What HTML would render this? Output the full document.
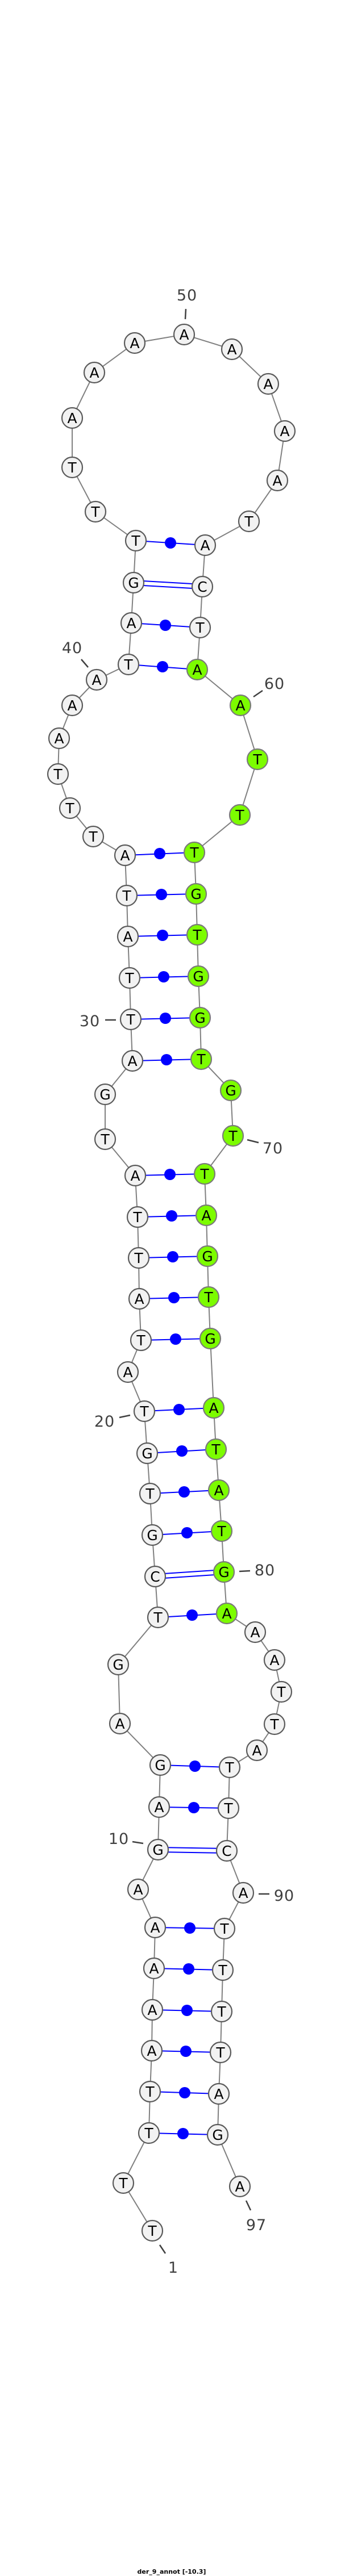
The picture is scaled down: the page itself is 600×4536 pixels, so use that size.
<!DOCTYPE html>
<html><head><meta charset="utf-8"><style>
html,body{margin:0;padding:0;background:#fff}
svg{display:block}
.b{fill:none;stroke:#808080;stroke-width:2}
.p{stroke:#0000ff;stroke-width:2}
.d{fill:#0000ff}
.n{fill:#f2f2f2;stroke:#5a5a5a;stroke-width:2.2}
.g{fill:#7cfc00;stroke:#7a7a7a;stroke-width:2.2}
.t text{font-family:"DejaVu Sans","Liberation Sans",sans-serif;font-size:25px;text-anchor:middle;fill:#000}
.l{font-family:"DejaVu Sans","Liberation Sans",sans-serif;font-size:27px;fill:#404040;text-anchor:middle;letter-spacing:1px}
.k{stroke:#404040;stroke-width:2.5}
</style></head><body>
<svg width="600" height="4536" viewBox="0 0 600 4536" xmlns="http://www.w3.org/2000/svg">
<polyline class="b" points="268,3928 217,3844 262,3756 264,3683 267,3611 268,3539 271,3466 273,3394 243,3327 278,3257 280,3182 282,3108 211,3035 208,2931 278,2848 273,2776 268,2703 264,2630 259,2559 254,2485 225,2416 248,2360 245,2287 244,2215 242,2143 238,2070 185,2006 185,1927 233,1868 230,1795 228,1722 225,1649 223,1577 220,1506 164,1473 123,1423 102,1363 104,1300 127,1242 170,1197 226,1170 231,1097 235,1026 239,952 168,901 127,823 127,736 166,656 237,604 324,589 408,615 472,676 501,759 488,846 438,918 361,960 356,1033 352,1105 347,1179 423,1242 453,1337 422,1435 342,1501 345,1574 347,1646 349,1719 352,1792 354,1865 406,1920 410,2000 360,2067 363,2140 365,2212 367,2284 370,2357 376,2479 380,2552 385,2624 390,2696 394,2768 399,2841 449,2874 483,2923 495,2979 483,3036 452,3082 404,3112 402,3184 399,3259 428,3333 395,3396 392,3469 390,3542 388,3614 385,3687 383,3759 422,3850"/>
<!-- single pairs -->
<g>
<line class="p" x1="262" y1="3756" x2="383" y2="3759"/><circle class="d" cx="322" cy="3757" r="10"/>
<line class="p" x1="264" y1="3683" x2="385" y2="3687"/><circle class="d" cx="325" cy="3685" r="10"/>
<line class="p" x1="267" y1="3611" x2="388" y2="3614"/><circle class="d" cx="327" cy="3612" r="10"/>
<line class="p" x1="268" y1="3539" x2="390" y2="3542"/><circle class="d" cx="329" cy="3540" r="10"/>
<line class="p" x1="271" y1="3466" x2="392" y2="3469"/><circle class="d" cx="332" cy="3467" r="10"/>
<line class="p" x1="273" y1="3394" x2="395" y2="3396"/><circle class="d" cx="334" cy="3395" r="10"/>
<line class="p" x1="280" y1="3182" x2="402" y2="3184"/><circle class="d" cx="341" cy="3183" r="10"/>
<line class="p" x1="282" y1="3108" x2="404" y2="3112"/><circle class="d" cx="343" cy="3110" r="10"/>
<line class="p" x1="278" y1="2848" x2="399" y2="2841"/><circle class="d" cx="338" cy="2844" r="10"/>
<line class="p" x1="268" y1="2703" x2="390" y2="2696"/><circle class="d" cx="329" cy="2699" r="10"/>
<line class="p" x1="264" y1="2630" x2="385" y2="2624"/><circle class="d" cx="324" cy="2627" r="10"/>
<line class="p" x1="259" y1="2559" x2="380" y2="2552"/><circle class="d" cx="320" cy="2555" r="10"/>
<line class="p" x1="254" y1="2485" x2="376" y2="2479"/><circle class="d" cx="315" cy="2482" r="10"/>
<line class="p" x1="248" y1="2360" x2="370" y2="2357"/><circle class="d" cx="309" cy="2358" r="10"/>
<line class="p" x1="245" y1="2287" x2="367" y2="2284"/><circle class="d" cx="306" cy="2285" r="10"/>
<line class="p" x1="244" y1="2215" x2="365" y2="2212"/><circle class="d" cx="304" cy="2213" r="10"/>
<line class="p" x1="242" y1="2143" x2="363" y2="2140"/><circle class="d" cx="302" cy="2141" r="10"/>
<line class="p" x1="238" y1="2070" x2="360" y2="2067"/><circle class="d" cx="299" cy="2068" r="10"/>
<line class="p" x1="233" y1="1868" x2="354" y2="1865"/><circle class="d" cx="293" cy="1866" r="10"/>
<line class="p" x1="230" y1="1795" x2="352" y2="1792"/><circle class="d" cx="291" cy="1793" r="10"/>
<line class="p" x1="228" y1="1722" x2="349" y2="1719"/><circle class="d" cx="288" cy="1720" r="10"/>
<line class="p" x1="225" y1="1649" x2="347" y2="1646"/><circle class="d" cx="286" cy="1647" r="10"/>
<line class="p" x1="223" y1="1577" x2="345" y2="1574"/><circle class="d" cx="284" cy="1575" r="10"/>
<line class="p" x1="220" y1="1506" x2="342" y2="1501"/><circle class="d" cx="281" cy="1503" r="10"/>
<line class="p" x1="226" y1="1170" x2="347" y2="1179"/><circle class="d" cx="286" cy="1174" r="10"/>
<line class="p" x1="231" y1="1097" x2="352" y2="1105"/><circle class="d" cx="291" cy="1101" r="10"/>
<line class="p" x1="239" y1="952" x2="361" y2="960"/><circle class="d" cx="300" cy="956" r="10"/>
</g>
<!-- GC double pairs -->
<g>
<line class="p" x1="278" y1="3253" x2="399" y2="3255"/><line class="p" x1="278" y1="3261" x2="399" y2="3263"/>
<line class="p" x1="273" y1="2772" x2="394" y2="2764"/><line class="p" x1="273" y1="2780" x2="394" y2="2772"/>
<line class="p" x1="235" y1="1022" x2="356" y2="1029"/><line class="p" x1="235" y1="1030" x2="356" y2="1037"/>
</g>
<!-- ticks & labels -->
<g>
<line class="k" x1="327" y1="544" x2="326" y2="562"/><text class="l" x="329" y="529">50</text>
<line class="k" x1="143" y1="1161" x2="155" y2="1175"/><text class="l" x="127" y="1150">40</text>
<line class="k" x1="446" y1="1227" x2="462" y2="1216"/><text class="l" x="483" y="1213">60</text>
<line class="k" x1="185" y1="1796" x2="204" y2="1796"/><text class="l" x="158" y="1807">30</text>
<line class="k" x1="435" y1="2007" x2="455" y2="2012"/><text class="l" x="480" y="2031">70</text>
<line class="k" x1="210" y1="2496" x2="229" y2="2492"/><text class="l" x="184" y="2512">20</text>
<line class="k" x1="421" y1="2767" x2="440" y2="2766"/><text class="l" x="466" y="2774">80</text>
<line class="k" x1="233" y1="3243" x2="252" y2="3246"/><text class="l" x="209" y="3247">10</text>
<line class="k" x1="455" y1="3335" x2="474" y2="3335"/><text class="l" x="500" y="3347">90</text>
<line class="k" x1="433" y1="3875" x2="441" y2="3892"/><text class="l" x="451" y="3927">97</text>
<line class="k" x1="281" y1="3953" x2="291" y2="3968"/><text class="l" x="305" y="4002">1</text>
</g>
<g class="t">
<circle class="n" cx="268" cy="3928" r="18"/><text x="268" y="3937">T</text>
<circle class="n" cx="217" cy="3844" r="18"/><text x="217" y="3853">T</text>
<circle class="n" cx="262" cy="3756" r="18"/><text x="262" y="3765">T</text>
<circle class="n" cx="264" cy="3683" r="18"/><text x="264" y="3692">T</text>
<circle class="n" cx="267" cy="3611" r="18"/><text x="267" y="3620">A</text>
<circle class="n" cx="268" cy="3539" r="18"/><text x="268" y="3548">A</text>
<circle class="n" cx="271" cy="3466" r="18"/><text x="271" y="3475">A</text>
<circle class="n" cx="273" cy="3394" r="18"/><text x="273" y="3403">A</text>
<circle class="n" cx="243" cy="3327" r="18"/><text x="243" y="3336">A</text>
<circle class="n" cx="278" cy="3257" r="18"/><text x="278" y="3266">G</text>
<circle class="n" cx="280" cy="3182" r="18"/><text x="280" y="3191">A</text>
<circle class="n" cx="282" cy="3108" r="18"/><text x="282" y="3117">G</text>
<circle class="n" cx="211" cy="3035" r="18"/><text x="211" y="3044">A</text>
<circle class="n" cx="208" cy="2931" r="18"/><text x="208" y="2940">G</text>
<circle class="n" cx="278" cy="2848" r="18"/><text x="278" y="2857">T</text>
<circle class="n" cx="273" cy="2776" r="18"/><text x="273" y="2785">C</text>
<circle class="n" cx="268" cy="2703" r="18"/><text x="268" y="2712">G</text>
<circle class="n" cx="264" cy="2630" r="18"/><text x="264" y="2639">T</text>
<circle class="n" cx="259" cy="2559" r="18"/><text x="259" y="2568">G</text>
<circle class="n" cx="254" cy="2485" r="18"/><text x="254" y="2494">T</text>
<circle class="n" cx="225" cy="2416" r="18"/><text x="225" y="2425">A</text>
<circle class="n" cx="248" cy="2360" r="18"/><text x="248" y="2369">T</text>
<circle class="n" cx="245" cy="2287" r="18"/><text x="245" y="2296">A</text>
<circle class="n" cx="244" cy="2215" r="18"/><text x="244" y="2224">T</text>
<circle class="n" cx="242" cy="2143" r="18"/><text x="242" y="2152">T</text>
<circle class="n" cx="238" cy="2070" r="18"/><text x="238" y="2079">A</text>
<circle class="n" cx="185" cy="2006" r="18"/><text x="185" y="2015">T</text>
<circle class="n" cx="185" cy="1927" r="18"/><text x="185" y="1936">G</text>
<circle class="n" cx="233" cy="1868" r="18"/><text x="233" y="1877">A</text>
<circle class="n" cx="230" cy="1795" r="18"/><text x="230" y="1804">T</text>
<circle class="n" cx="228" cy="1722" r="18"/><text x="228" y="1731">T</text>
<circle class="n" cx="225" cy="1649" r="18"/><text x="225" y="1658">A</text>
<circle class="n" cx="223" cy="1577" r="18"/><text x="223" y="1586">T</text>
<circle class="n" cx="220" cy="1506" r="18"/><text x="220" y="1515">A</text>
<circle class="n" cx="164" cy="1473" r="18"/><text x="164" y="1482">T</text>
<circle class="n" cx="123" cy="1423" r="18"/><text x="123" y="1432">T</text>
<circle class="n" cx="102" cy="1363" r="18"/><text x="102" y="1372">T</text>
<circle class="n" cx="104" cy="1300" r="18"/><text x="104" y="1309">A</text>
<circle class="n" cx="127" cy="1242" r="18"/><text x="127" y="1251">A</text>
<circle class="n" cx="170" cy="1197" r="18"/><text x="170" y="1206">A</text>
<circle class="n" cx="226" cy="1170" r="18"/><text x="226" y="1179">T</text>
<circle class="n" cx="231" cy="1097" r="18"/><text x="231" y="1106">A</text>
<circle class="n" cx="235" cy="1026" r="18"/><text x="235" y="1035">G</text>
<circle class="n" cx="239" cy="952" r="18"/><text x="239" y="961">T</text>
<circle class="n" cx="168" cy="901" r="18"/><text x="168" y="910">T</text>
<circle class="n" cx="127" cy="823" r="18"/><text x="127" y="832">T</text>
<circle class="n" cx="127" cy="736" r="18"/><text x="127" y="745">A</text>
<circle class="n" cx="166" cy="656" r="18"/><text x="166" y="665">A</text>
<circle class="n" cx="237" cy="604" r="18"/><text x="237" y="613">A</text>
<circle class="n" cx="324" cy="589" r="18"/><text x="324" y="598">A</text>
<circle class="n" cx="408" cy="615" r="18"/><text x="408" y="624">A</text>
<circle class="n" cx="472" cy="676" r="18"/><text x="472" y="685">A</text>
<circle class="n" cx="501" cy="759" r="18"/><text x="501" y="768">A</text>
<circle class="n" cx="488" cy="846" r="18"/><text x="488" y="855">A</text>
<circle class="n" cx="438" cy="918" r="18"/><text x="438" y="927">T</text>
<circle class="n" cx="361" cy="960" r="18"/><text x="361" y="969">A</text>
<circle class="n" cx="356" cy="1033" r="18"/><text x="356" y="1042">C</text>
<circle class="n" cx="352" cy="1105" r="18"/><text x="352" y="1114">T</text>
<circle class="g" cx="347" cy="1179" r="18"/><text x="347" y="1188">A</text>
<circle class="g" cx="423" cy="1242" r="18"/><text x="423" y="1251">A</text>
<circle class="g" cx="453" cy="1337" r="18"/><text x="453" y="1346">T</text>
<circle class="g" cx="422" cy="1435" r="18"/><text x="422" y="1444">T</text>
<circle class="g" cx="342" cy="1501" r="18"/><text x="342" y="1510">T</text>
<circle class="g" cx="345" cy="1574" r="18"/><text x="345" y="1583">G</text>
<circle class="g" cx="347" cy="1646" r="18"/><text x="347" y="1655">T</text>
<circle class="g" cx="349" cy="1719" r="18"/><text x="349" y="1728">G</text>
<circle class="g" cx="352" cy="1792" r="18"/><text x="352" y="1801">G</text>
<circle class="g" cx="354" cy="1865" r="18"/><text x="354" y="1874">T</text>
<circle class="g" cx="406" cy="1920" r="18"/><text x="406" y="1929">G</text>
<circle class="g" cx="410" cy="2000" r="18"/><text x="410" y="2009">T</text>
<circle class="g" cx="360" cy="2067" r="18"/><text x="360" y="2076">T</text>
<circle class="g" cx="363" cy="2140" r="18"/><text x="363" y="2149">A</text>
<circle class="g" cx="365" cy="2212" r="18"/><text x="365" y="2221">G</text>
<circle class="g" cx="367" cy="2284" r="18"/><text x="367" y="2293">T</text>
<circle class="g" cx="370" cy="2357" r="18"/><text x="370" y="2366">G</text>
<circle class="g" cx="376" cy="2479" r="18"/><text x="376" y="2488">A</text>
<circle class="g" cx="380" cy="2552" r="18"/><text x="380" y="2561">T</text>
<circle class="g" cx="385" cy="2624" r="18"/><text x="385" y="2633">A</text>
<circle class="g" cx="390" cy="2696" r="18"/><text x="390" y="2705">T</text>
<circle class="g" cx="394" cy="2768" r="18"/><text x="394" y="2777">G</text>
<circle class="g" cx="399" cy="2841" r="18"/><text x="399" y="2850">A</text>
<circle class="n" cx="449" cy="2874" r="18"/><text x="449" y="2883">A</text>
<circle class="n" cx="483" cy="2923" r="18"/><text x="483" y="2932">A</text>
<circle class="n" cx="495" cy="2979" r="18"/><text x="495" y="2988">T</text>
<circle class="n" cx="483" cy="3036" r="18"/><text x="483" y="3045">T</text>
<circle class="n" cx="452" cy="3082" r="18"/><text x="452" y="3091">A</text>
<circle class="n" cx="404" cy="3112" r="18"/><text x="404" y="3121">T</text>
<circle class="n" cx="402" cy="3184" r="18"/><text x="402" y="3193">T</text>
<circle class="n" cx="399" cy="3259" r="18"/><text x="399" y="3268">C</text>
<circle class="n" cx="428" cy="3333" r="18"/><text x="428" y="3342">A</text>
<circle class="n" cx="395" cy="3396" r="18"/><text x="395" y="3405">T</text>
<circle class="n" cx="392" cy="3469" r="18"/><text x="392" y="3478">T</text>
<circle class="n" cx="390" cy="3542" r="18"/><text x="390" y="3551">T</text>
<circle class="n" cx="388" cy="3614" r="18"/><text x="388" y="3623">T</text>
<circle class="n" cx="385" cy="3687" r="18"/><text x="385" y="3696">A</text>
<circle class="n" cx="383" cy="3759" r="18"/><text x="383" y="3768">G</text>
<circle class="n" cx="422" cy="3850" r="18"/><text x="422" y="3859">A</text>
</g>
<text x="302" y="4532" font-family="DejaVu Sans, Liberation Sans, sans-serif" font-size="11" font-weight="bold" text-anchor="middle" fill="#000">der_9_annot [-10.3]</text>
</svg>
</body></html>
